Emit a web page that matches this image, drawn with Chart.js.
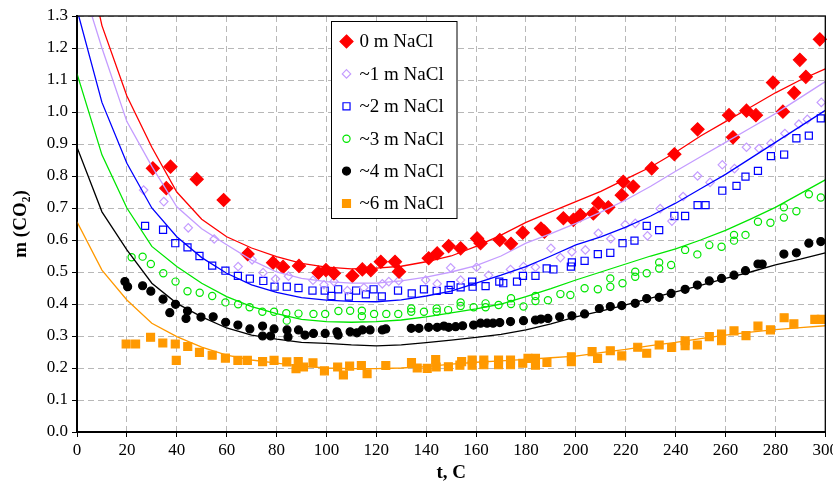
<!DOCTYPE html>
<html>
<head>
<meta charset="utf-8">
<script src="https://cdn.jsdelivr.net/npm/chart.js@4.4.1/dist/chart.umd.min.js"></script>
<style>
  html, body { margin: 0; padding: 0; background: #fff; }
  #chart { display: block; }
</style>
</head>
<body>
<canvas id="chart" width="833" height="486"></canvas>
<script>
// Series names (legend order)
const seriesNames = ['0 m NaCl', '~1 m NaCl', '~2 m NaCl', '~3 m NaCl', '~4 m NaCl', '~6 m NaCl'];

// Axis ticks
const tTicks = [0, 20, 40, 60, 80, 100, 120, 140, 160, 180, 200, 220, 240, 260, 280, 300];
const mTicks = [0.0, 0.1, 0.2, 0.3, 0.4, 0.5, 0.6, 0.7, 0.8, 0.9, 1.0, 1.1, 1.2, 1.3];

// Model curves, sampled every 10 C
const fitT = [0, 10, 20, 30, 40, 50, 60, 70, 80, 90, 100, 110, 120, 130, 140, 150,
              160, 170, 180, 190, 200, 210, 220, 230, 240, 250, 260, 270, 280, 290, 300];
const fit0 = [1.62, 1.27, 1.05, 0.89, 0.75, 0.665, 0.61, 0.575, 0.548, 0.527, 0.515, 0.51, 0.512, 0.518, 0.532, 0.55,
              0.58, 0.615, 0.655, 0.688, 0.72, 0.752, 0.79, 0.828, 0.874, 0.925, 0.97, 1.015, 1.06, 1.10, 1.135];
const fit1 = [1.45, 1.2, 0.97, 0.83, 0.704, 0.635, 0.585, 0.537, 0.50, 0.48, 0.47, 0.465, 0.465, 0.472, 0.484, 0.50,
              0.52, 0.55, 0.59, 0.62, 0.652, 0.687, 0.725, 0.768, 0.815, 0.86, 0.905, 0.95, 0.995, 1.045, 1.095];
const fit2 = [1.32, 1.03, 0.84, 0.70, 0.61, 0.545, 0.496, 0.46, 0.436, 0.42, 0.412, 0.408, 0.407, 0.413, 0.425, 0.44,
              0.465, 0.49, 0.517, 0.55, 0.585, 0.61, 0.64, 0.675, 0.715, 0.76, 0.805, 0.855, 0.905, 0.955, 1.005];
const fit3 = [1.12, 0.866, 0.70, 0.58, 0.517, 0.465, 0.423, 0.392, 0.37, 0.352, 0.345, 0.343, 0.345, 0.35, 0.36, 0.372,
              0.385, 0.40, 0.423, 0.448, 0.475, 0.50, 0.525, 0.55, 0.572, 0.60, 0.63, 0.665, 0.702, 0.745, 0.788];
const fit4 = [0.89, 0.688, 0.569, 0.465, 0.402, 0.36, 0.325, 0.303, 0.29, 0.28, 0.277, 0.272, 0.269, 0.272, 0.279, 0.287,
              0.296, 0.305, 0.319, 0.338, 0.36, 0.378, 0.397, 0.418, 0.438, 0.458, 0.48, 0.50, 0.522, 0.54, 0.56];
const fit6 = [0.657, 0.506, 0.4125, 0.34, 0.298, 0.265, 0.24, 0.225, 0.215, 0.206, 0.2, 0.198, 0.198, 0.2, 0.204, 0.212,
              0.218, 0.222, 0.227, 0.232, 0.237, 0.248, 0.258, 0.27, 0.28, 0.292, 0.303, 0.312, 0.32, 0.326, 0.332];

// Measured points [t, m]
const obs0 = [[30.4,0.824],[37.5,0.829],[35.8,0.762],[48,0.79],[58.8,0.725],[68.4,0.556],[78.6,0.529],[82.6,0.516],
  [89,0.519],[96.8,0.498],[99.8,0.506],[103,0.496],[110.4,0.488],[114.4,0.508],[117.8,0.506],[121.8,0.532],[127.5,0.532],
  [129.1,0.501],[141,0.543],[144.4,0.558],[149,0.581],[153.8,0.574],[160.4,0.605],[161.8,0.59],[169.5,0.60],[174,0.588],
  [178.7,0.623],[186,0.636],[187.4,0.626],[195,0.668],[199,0.663],[201.8,0.678],[207,0.683],[209,0.715],[213,0.702],
  [218.4,0.74],[219,0.782],[223,0.767],[230.4,0.824],[239.5,0.868],[248.8,0.946],[261.4,0.99],[263,0.921],[268.4,1.004],
  [272.2,0.99],[279,1.092],[283,1.001],[287.5,1.06],[289.8,1.163],[292.2,1.11],[297.8,1.227]];
const obs1 = [[26.7,0.756],[34.8,0.72],[44.6,0.638],[55,0.603],[64.6,0.517],[70.2,0.538],[74.6,0.498],[79.6,0.478],
  [84.8,0.487],[94.6,0.474],[99,0.46],[103,0.47],[108.4,0.442],[115,0.451],[122.4,0.463],[125,0.47],[129,0.473],
  [139.8,0.475],[144.4,0.463],[149.8,0.513],[153.8,0.475],[160.2,0.515],[165,0.49],[173.8,0.508],[179,0.517],[183.8,0.515],
  [190,0.574],[193.8,0.545],[198.4,0.563],[203.8,0.569],[209,0.621],[214,0.604],[219.8,0.648],[223.8,0.652],[228.7,0.613],
  [233.8,0.698],[238.5,0.659],[243,0.736],[248.8,0.80],[253.8,0.78],[258.7,0.835],[263.6,0.823],[268.4,0.89],[273.4,0.886],
  [278.2,0.902],[283.8,0.933],[289.4,0.962],[292.8,0.977],[298.4,1.03]];
const obs2 = [[27.3,0.644],[34.5,0.632],[39.4,0.59],[44.3,0.577],[49.1,0.55],[54.2,0.52],[59.5,0.504],[64.5,0.488],
  [69.3,0.479],[74.7,0.472],[79.2,0.454],[84.1,0.454],[88.8,0.45],[94.4,0.442],[99.3,0.442],[102,0.425],[104.7,0.446],
  [109,0.423],[111.9,0.442],[115.8,0.43],[118.9,0.446],[122.2,0.424],[128.7,0.442],[134.2,0.433],[139.1,0.446],[144.2,0.441],
  [149,0.444],[149.8,0.459],[153.8,0.452],[158.4,0.47],[158.6,0.454],[163.8,0.456],[169.3,0.47],[170.9,0.465],[176.4,0.47],
  [178.8,0.488],[183.8,0.488],[188.3,0.511],[191,0.508],[198,0.517],[198.4,0.53],[203.5,0.535],[208.8,0.556],[213.8,0.56],
  [218.7,0.59],[223.5,0.598],[228.4,0.644],[233.4,0.631],[239.5,0.675],[243.8,0.675],[248.8,0.709],[252,0.709],[258.7,0.754],
  [264.4,0.769],[268,0.798],[273,0.816],[278.2,0.862],[283.5,0.867],[288.4,0.918],[293.4,0.926],[298.2,0.98]];
const obs3 = [[21.9,0.546],[26.3,0.548],[29.6,0.525],[34.6,0.496],[39.5,0.47],[44.3,0.44],[49.2,0.435],[54.2,0.425],
  [59.5,0.405],[64.6,0.399],[69.2,0.39],[74.3,0.376],[79,0.376],[83.9,0.371],[84.1,0.348],[88.8,0.37],[94.8,0.369],
  [99.5,0.369],[104.8,0.378],[109.5,0.379],[114.2,0.379],[114.2,0.362],[119.1,0.369],[124,0.369],[128.8,0.369],[134,0.386],
  [134,0.376],[139.1,0.376],[144.2,0.386],[144.2,0.376],[148.8,0.381],[153.8,0.405],[153.8,0.394],[159,0.39],[163.8,0.402],
  [163.8,0.39],[169,0.397],[174,0.418],[174,0.40],[179,0.392],[183.8,0.425],[183.8,0.409],[188.8,0.412],[193.8,0.431],
  [197.8,0.428],[203.5,0.449],[208.8,0.446],[213.8,0.48],[213.8,0.454],[218.7,0.465],[223.8,0.501],[223.8,0.485],[228.4,0.496],
  [233.4,0.53],[233.4,0.511],[238.2,0.522],[243.8,0.569],[248.7,0.555],[253.5,0.584],[258.4,0.579],[263.4,0.616],[263.4,0.598],
  [268,0.616],[273,0.657],[278,0.654],[283.4,0.702],[283.4,0.67],[288.4,0.69],[293.4,0.743],[298.2,0.733]];
const obs4 = [[19.2,0.47],[20.3,0.454],[26.3,0.457],[29.6,0.44],[34.5,0.415],[39.5,0.399],[37.2,0.373],[44.3,0.378],
  [43.7,0.355],[49.7,0.359],[54.6,0.36],[59.6,0.343],[64.5,0.334],[69.3,0.322],[74.4,0.331],[74.4,0.30],[77.6,0.30],[79,0.322],
  [84.2,0.319],[84.6,0.297],[88.8,0.319],[91.4,0.303],[94.8,0.308],[99.5,0.308],[104.2,0.313],[104.7,0.303],[109.5,0.313],
  [112.2,0.31],[114.4,0.319],[117.5,0.319],[122.4,0.319],[123.8,0.322],[134,0.324],[137.1,0.324],[141,0.327],[144.4,0.327],
  [147.1,0.331],[149,0.327],[151.8,0.329],[154.6,0.332],[159,0.334],[161.8,0.34],[164.4,0.34],[166.8,0.34],[169.5,0.342],
  [173.8,0.345],[179,0.348],[183.8,0.35],[186,0.353],[188.8,0.355],[193.5,0.36],[198.4,0.363],[203.5,0.369],[209.4,0.386],
  [213.8,0.392],[218.4,0.395],[223.8,0.402],[228.4,0.417],[233.4,0.421],[238.2,0.433],[243.8,0.446],[248.7,0.459],[253.5,0.472],
  [258.4,0.48],[263.4,0.49],[268,0.504],[273,0.525],[274.7,0.525],[283.4,0.556],[288.4,0.56],[293.4,0.59],[298.2,0.595]];
const obs6 = [[19.7,0.275],[23.5,0.275],[29.5,0.296],[34.4,0.278],[39.4,0.275],[39.8,0.224],[44.4,0.267],[49.1,0.249],
  [54.2,0.24],[59.5,0.231],[64.5,0.224],[68.3,0.224],[74.4,0.22],[79,0.224],[84.1,0.219],[87.8,0.198],[88.7,0.22],[90.8,0.203],
  [94.6,0.216],[99.2,0.191],[104.5,0.203],[106.8,0.178],[109.3,0.206],[114,0.208],[116.3,0.182],[123.8,0.208],[134.1,0.217],
  [136.4,0.2],[140.4,0.199],[143.8,0.226],[144,0.203],[148.9,0.204],[153.5,0.209],[154.2,0.22],[158.4,0.225],[158.4,0.209],
  [163.1,0.225],[163.1,0.21],[169,0.225],[169,0.21],[173.8,0.225],[173.8,0.21],[178.7,0.215],[180.8,0.23],[183.8,0.23],
  [183.8,0.209],[188.4,0.217],[198.2,0.235],[198.2,0.22],[206.5,0.251],[208.7,0.23],[213.8,0.254],[218.4,0.238],[224.8,0.265],
  [228.4,0.246],[233.4,0.272],[238.4,0.264],[243.8,0.285],[243.8,0.27],[248.7,0.272],[253.5,0.298],[258.4,0.306],[258.4,0.285],
  [263.4,0.316],[268.2,0.301],[273,0.331],[278,0.319],[283.5,0.357],[287.4,0.338],[295.8,0.352],[298.4,0.352]];

const fits = [fit0, fit1, fit2, fit3, fit4, fit6];
const observed = [obs0, obs1, obs2, obs3, obs4, obs6];

// Look of each series
const lineColors = ['#ff0000', '#c49cff', '#0000ff', '#00e600', '#000000', '#ff9900'];
const markers = [
  { shape: 'rectRot', r: 6.5, fill: '#ff0000', stroke: '#ff0000' },
  { shape: 'rectRot', r: 4.2, fill: 'rgba(0,0,0,0)', stroke: '#c49cff' },
  { shape: 'rect', r: 5, fill: 'rgba(0,0,0,0)', stroke: '#0000ff' },
  { shape: 'circle', r: 3.6, fill: 'rgba(0,0,0,0)', stroke: '#00e600' },
  { shape: 'circle', r: 4, fill: '#000000', stroke: '#000000' },
  { shape: 'rect', r: 5.6, fill: '#ff9900', stroke: '#ff9900' }
];

const SERIF = '"Liberation Serif", "DejaVu Serif", serif';

const datasets = [];
fits.forEach((f, i) => {
  datasets.push({
    type: 'line',
    label: seriesNames[i] + ' fit',
    data: fitT.map((t, k) => ({ x: t, y: f[k] })),
    borderColor: lineColors[i],
    borderWidth: 1.3,
    pointRadius: 0,
    tension: 0,
    fill: false,
    order: 1
  });
});
observed.forEach((pts, i) => {
  const m = markers[i];
  datasets.push({
    type: 'scatter',
    label: seriesNames[i],
    data: pts.map(p => ({ x: p[0], y: p[1] })),
    pointStyle: m.shape,
    pointRadius: m.r,
    pointBackgroundColor: m.fill,
    pointBorderColor: m.stroke,
    pointBorderWidth: 1.2,
    clip: false,
    order: 2
  });
});

function drawMarker(ctx, m, x, y) {
  ctx.beginPath();
  if (m.shape === 'rectRot') {
    ctx.moveTo(x, y - m.r); ctx.lineTo(x + m.r, y); ctx.lineTo(x, y + m.r); ctx.lineTo(x - m.r, y); ctx.closePath();
  } else if (m.shape === 'rect') {
    const h = m.r * Math.SQRT1_2;
    ctx.rect(x - h, y - h, 2 * h, 2 * h);
  } else {
    ctx.arc(x, y, m.r, 0, Math.PI * 2);
  }
  ctx.fillStyle = m.fill; ctx.fill();
  ctx.lineWidth = 1.2; ctx.strokeStyle = m.stroke; ctx.stroke();
}

// frame around plot + boxed legend inside it
const framePlugin = {
  id: 'frameAndLegend',
  afterDraw(chart) {
    const { ctx, chartArea: a } = chart;
    ctx.save();
    ctx.strokeStyle = '#000';
    ctx.lineWidth = 1.3;
    ctx.strokeRect(a.left, a.top, a.right - a.left, a.bottom - a.top);

    const x0 = a.left + 254.5, y0 = a.top + 5.5, w = 125.5, h = 197;
    ctx.fillStyle = '#fff';
    ctx.fillRect(x0, y0, w, h);
    ctx.lineWidth = 1;
    ctx.strokeRect(x0, y0, w, h);
    ctx.font = '19px ' + SERIF;
    ctx.textBaseline = 'middle';
    seriesNames.forEach((name, i) => {
      const cy = y0 + 20 + i * 32.4;
      drawMarker(ctx, markers[i], x0 + 15, cy);
      ctx.fillStyle = '#000';
      ctx.fillText(name, x0 + 28, cy + 1);
    });
    ctx.restore();
  }
};

new Chart(document.getElementById('chart'), {
  data: { datasets },
  plugins: [framePlugin],
  options: {
    responsive: false,
    animation: false,
    devicePixelRatio: 1,
    layout: { padding: { left: 0, right: 6, top: 16, bottom: 0 } },
    plugins: { legend: { display: false }, tooltip: { enabled: false } },
    scales: {
      x: {
        type: 'linear',
        min: 0, max: 300,
        afterBuildTicks: s => { s.ticks = tTicks.map(v => ({ value: v })); },
        afterFit: s => { s.height = 54; s.paddingLeft = 0; s.paddingRight = 0; },
        ticks: {
          autoSkip: false, maxRotation: 0, padding: 3, color: '#000',
          font: { family: SERIF, size: 17 },
          callback: v => String(v)
        },
        grid: { color: '#b8b8b8', lineWidth: 1, tickColor: '#000', tickLength: 5, tickWidth: 1 },
        border: { color: '#000', width: 2, dash: [6, 4] },
        title: {
          display: true, text: 't, C', color: '#000',
          font: { family: SERIF, size: 19, weight: 'bold' },
          padding: { top: 0, bottom: 2 }
        }
      },
      y: {
        type: 'linear',
        min: 0, max: 1.3,
        afterBuildTicks: s => { s.ticks = mTicks.map(v => ({ value: v })); },
        afterFit: s => { s.width = 77; s.paddingTop = 0; s.paddingBottom = 0; },
        ticks: {
          autoSkip: false, padding: 4, color: '#000',
          font: { family: SERIF, size: 17 },
          callback: v => Number(v).toFixed(1)
        },
        grid: { color: '#b8b8b8', lineWidth: 1, tickColor: '#000', tickLength: 5, tickWidth: 1 },
        border: { color: '#000', width: 2, dash: [6, 4] },
        title: {
          display: true, text: 'm (CO₂)', color: '#000',
          font: { family: SERIF, size: 19, weight: 'bold' },
          padding: { top: 10, bottom: 0 }
        }
      }
    }
  }
});
</script>
</body>
</html>
